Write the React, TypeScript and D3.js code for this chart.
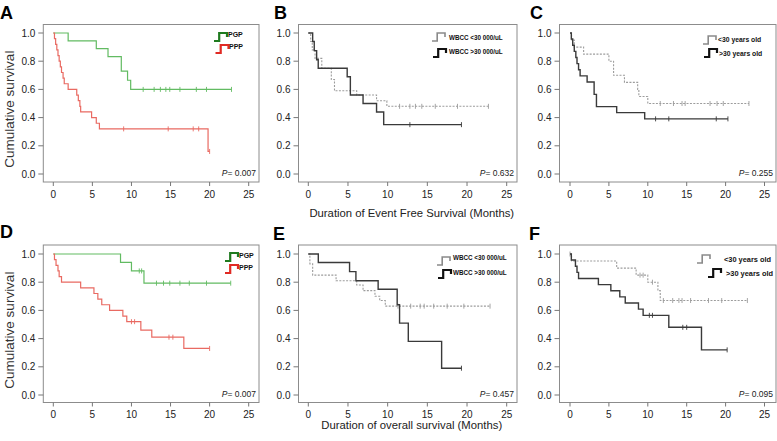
import React from 'react';
import * as d3 from 'd3';

// ---------- shared tick values ----------
const xTicks = [0, 5, 10, 15, 20, 25];
const yTicks = [0, 0.2, 0.4, 0.6, 0.8, 1.0];

// ---------- Panel A (event free survival, PGP / PPP) ----------
const aPgpTimes = [1.9, 5.5, 7.0, 8.7, 9.5, 9.9];
const aPgpSurv = [0.944, 0.889, 0.833, 0.729, 0.665, 0.6];
const aPgpEnd = 22.8;
const aPgpCensor = [11.5, 12.9, 13.7, 14.4, 14.9, 16.2, 18.3, 19.6, 22.8];

const aPppTimes = [0.15, 0.3, 0.45, 0.6, 0.75, 0.9, 1.05, 1.25, 1.4, 1.9, 3.0, 3.2, 3.4, 3.5, 4.9, 5.5, 5.9, 19.8];
const aPppSurv = [0.96, 0.92, 0.88, 0.84, 0.8, 0.76, 0.72, 0.68, 0.64, 0.6, 0.56, 0.52, 0.48, 0.44, 0.4, 0.36, 0.32, 0.16];
const aPppEnd = 20.0;
const aPppCensor = [9.0, 14.7, 17.9, 18.6, 20.0];

// ---------- Panel B (event free survival, WBCC) ----------
const bLowTimes = [0.3, 0.5, 0.85, 1.7, 2.9, 3.3, 6.1, 8.6, 9.9];
const bLowSurv = [0.94, 0.88, 0.82, 0.75, 0.67, 0.59, 0.56, 0.52, 0.48];
const bLowEnd = 22.7;
const bLowCensor = [11.5, 12.8, 13.5, 14.3, 16.0, 18.8, 22.7];

const bHighTimes = [0.55, 0.75, 1.05, 1.25, 4.9, 5.3, 6.9, 8.6, 9.5];
const bHighSurv = [0.94, 0.875, 0.81, 0.75, 0.69, 0.56, 0.5, 0.44, 0.35];
const bHighEnd = 19.3;
const bHighCensor = [12.8, 19.3];

// ---------- Panel C (event free survival, age) ----------
const cYoungTimes = [0.2, 0.55, 1.75, 5.0, 5.6, 7.0, 8.7, 8.85, 10.0];
const cYoungSurv = [0.95, 0.9, 0.85, 0.8, 0.7, 0.65, 0.6, 0.55, 0.5];
const cYoungEnd = 23.0;
const cYoungCensor = [11.6, 13.3, 14.4, 14.8, 18.0, 18.9, 19.7, 23.0];

const cOldTimes = [0.17, 0.35, 0.55, 0.75, 0.9, 1.1, 1.3, 2.2, 3.1, 3.4, 6.0, 9.6];
const cOldSurv = [0.957, 0.913, 0.87, 0.826, 0.783, 0.739, 0.696, 0.652, 0.565, 0.478, 0.435, 0.391];
const cOldEnd = 20.3;
const cOldCensor = [11.0, 12.7, 18.8, 20.3];

// ---------- Panel D (overall survival, PGP / PPP) ----------
const dPgpTimes = [8.6, 10.0, 11.6];
const dPgpSurv = [0.94, 0.88, 0.793];
const dPgpEnd = 22.7;
const dPgpCensor = [11.0, 11.3, 13.2, 14.1, 14.9, 16.2, 17.4, 19.6, 22.7];

const dPppTimes = [0.15, 0.35, 0.6, 0.75, 1.05, 3.5, 5.2, 5.7, 6.2, 7.2, 8.9, 9.4, 11.2, 12.6, 16.7];
const dPppSurv = [0.96, 0.92, 0.88, 0.84, 0.8, 0.76, 0.72, 0.68, 0.64, 0.6, 0.56, 0.52, 0.46, 0.41, 0.33];
const dPppEnd = 20.0;
const dPppCensor = [10.0, 10.4, 14.8, 15.3, 20.0];

// ---------- Panel E (overall survival, WBCC) ----------
const eLowTimes = [0.2, 0.55, 3.5, 6.1, 6.9, 8.4, 9.0, 9.7];
const eLowSurv = [0.93, 0.85, 0.81, 0.78, 0.74, 0.7, 0.67, 0.63];
const eLowEnd = 22.9;
const eLowCensor = [11.3, 12.9, 14.1, 14.6, 15.8, 17.5, 19.6, 22.9];

const eHighTimes = [1.26, 5.2, 6.0, 8.8, 11.2, 11.5, 12.6, 16.8];
const eHighSurv = [0.94, 0.875, 0.81, 0.75, 0.64, 0.51, 0.38, 0.19];
const eHighEnd = 19.3;
const eHighCensor = [19.3];

// ---------- Panel F (overall survival, age) ----------
const fYoungTimes = [0.2, 6.0, 8.5, 10.0, 11.3, 11.6];
const fYoungSurv = [0.95, 0.9, 0.85, 0.8, 0.74, 0.67];
const fYoungEnd = 22.8;
const fYoungCensor = [0.0, 9.0, 9.4, 10.6, 12.0, 13.2, 14.0, 14.4, 15.5, 17.8, 19.5, 22.8];

const fOldTimes = [0.17, 0.7, 0.9, 1.1, 3.65, 5.25, 6.4, 7.1, 8.8, 9.4, 12.7, 16.9];
const fOldSurv = [0.957, 0.913, 0.87, 0.826, 0.783, 0.739, 0.696, 0.652, 0.609, 0.565, 0.48, 0.32];
const fOldEnd = 20.2;
const fOldCensor = [10.2, 10.6, 14.5, 15.0, 20.2];

// ---------- labels ----------
const groupLabelsPP = ['PGP', 'PPP'];
const groupLabelsWBCC = ['WBCC <30 000/uL', 'WBCC >30 000/uL'];
const groupLabelsAge = ['<30 years old', '>30 years old'];
const pValues = ['0.007', '0.632', '0.255', '0.007', '0.457', '0.095'];
const panelLetters = ['A', 'B', 'C', 'D', 'E', 'F'];
const yAxisTitle = 'Cumulative survival';
const xAxisTitles = ['Duration of Event Free Survival (Months)', 'Duration of overall survival (Months)'];

// ---------- styles / layout (not data) ----------
type StyleKey = 'green' | 'red' | 'gray' | 'black';
const lineStyles: Record<StyleKey, { stroke: string; width: number; dash?: string; icon: string; iconW: number }> = {
  green: { stroke: '#62bb62', width: 1.2, icon: '#1f7a1f', iconW: 2.2 },
  red: { stroke: '#e96a62', width: 1.2, icon: '#e02a24', iconW: 2.2 },
  gray: { stroke: '#9c9c9c', width: 1.1, dash: '2,1.4', icon: '#8a8a8a', iconW: 1.6 },
  black: { stroke: '#3a3a3a', width: 1.4, icon: '#111111', iconW: 2.2 },
};

const cols = [
  { fx0: 43.3, fx1: 259, x0: 53.3, x25: 248.7 },
  { fx0: 298.5, fx1: 517, x0: 308.3, x25: 506.7 },
  { fx0: 559.5, fx1: 776, x0: 570, x25: 764.5 },
];
const rows = [
  { fy0: 24.5, fy1: 182, y1: 33, y0: 174 },
  { fy0: 245, fy1: 402.5, y1: 254, y0: 395 },
];

type Curve = { times: number[]; surv: number[]; end: number; censor: number[]; style: StyleKey };
type LegendPos = { icons: [number, number][]; text: [number, number][]; size: number };

const panels: {
  col: number; row: number; curves: Curve[]; labels: string[]; legendStyles: StyleKey[];
  legend: LegendPos; letterPos: [number, number];
}[] = [
  {
    col: 0, row: 0,
    curves: [
      { times: aPgpTimes, surv: aPgpSurv, end: aPgpEnd, censor: aPgpCensor, style: 'green' },
      { times: aPppTimes, surv: aPppSurv, end: aPppEnd, censor: aPppCensor, style: 'red' },
    ],
    labels: groupLabelsPP, legendStyles: ['green', 'red'],
    legend: { icons: [[214, 33], [215.5, 45]], text: [[228, 37], [229, 49]], size: 7 },
    letterPos: [0, 19],
  },
  {
    col: 1, row: 0,
    curves: [
      { times: bLowTimes, surv: bLowSurv, end: bLowEnd, censor: bLowCensor, style: 'gray' },
      { times: bHighTimes, surv: bHighSurv, end: bHighEnd, censor: bHighCensor, style: 'black' },
    ],
    labels: groupLabelsWBCC, legendStyles: ['gray', 'black'],
    legend: { icons: [[432, 33], [433, 49]], text: [[449, 40], [449, 54]], size: 6.3 },
    letterPos: [274, 19],
  },
  {
    col: 2, row: 0,
    curves: [
      { times: cYoungTimes, surv: cYoungSurv, end: cYoungEnd, censor: cYoungCensor, style: 'gray' },
      { times: cOldTimes, surv: cOldSurv, end: cOldEnd, censor: cOldCensor, style: 'black' },
    ],
    labels: groupLabelsAge, legendStyles: ['gray', 'black'],
    legend: { icons: [[703, 36], [704, 49]], text: [[718, 42], [719, 55.5]], size: 6.8 },
    letterPos: [530, 19],
  },
  {
    col: 0, row: 1,
    curves: [
      { times: dPgpTimes, surv: dPgpSurv, end: dPgpEnd, censor: dPgpCensor, style: 'green' },
      { times: dPppTimes, surv: dPppSurv, end: dPppEnd, censor: dPppCensor, style: 'red' },
    ],
    labels: groupLabelsPP, legendStyles: ['green', 'red'],
    legend: { icons: [[225, 253], [225, 265]], text: [[239, 257.5], [239, 269.5]], size: 7 },
    letterPos: [0, 238],
  },
  {
    col: 1, row: 1,
    curves: [
      { times: eLowTimes, surv: eLowSurv, end: eLowEnd, censor: eLowCensor, style: 'gray' },
      { times: eHighTimes, surv: eHighSurv, end: eHighEnd, censor: eHighCensor, style: 'black' },
    ],
    labels: groupLabelsWBCC, legendStyles: ['gray', 'black'],
    legend: { icons: [[437, 257], [438, 270]], text: [[453, 260], [453, 274.5]], size: 6.3 },
    letterPos: [273, 240],
  },
  {
    col: 2, row: 1,
    curves: [
      { times: fYoungTimes, surv: fYoungSurv, end: fYoungEnd, censor: fYoungCensor, style: 'gray' },
      { times: fOldTimes, surv: fOldSurv, end: fOldEnd, censor: fOldCensor, style: 'black' },
    ],
    labels: groupLabelsAge, legendStyles: ['gray', 'black'],
    legend: { icons: [[697, 255], [708, 269]], text: [[724, 261.5], [726, 275.5]], size: 7.4 },
    letterPos: [529, 240],
  },
];

const FONT = '"Liberation Sans", Arial, Helvetica, sans-serif';

function survAt(c: Curve, t: number) {
  let s = 1;
  for (let i = 0; i < c.times.length; i++) if (c.times[i] <= t) s = c.surv[i];
  return s;
}

function Panel({ p, i }: { p: (typeof panels)[number]; i: number }) {
  const col = cols[p.col];
  const row = rows[p.row];
  const x = d3.scaleLinear().domain([0, 25]).range([col.x0, col.x25]);
  const y = d3.scaleLinear().domain([0, 1]).range([row.y0, row.y1]);
  const line = d3
    .line<[number, number]>()
    .x((d) => x(d[0]))
    .y((d) => y(d[1]))
    .curve(d3.curveStepAfter);

  return (
    <g>
      <text x={p.letterPos[0]} y={p.letterPos[1]} fontFamily={FONT} fontWeight="bold" fontSize={18} fill="#000">
        {panelLetters[i]}
      </text>
      <rect x={col.fx0} y={row.fy0} width={col.fx1 - col.fx0} height={row.fy1 - row.fy0} fill="none" stroke="#8c8c8c" strokeWidth={1} />
      {yTicks.map((t) => (
        <g key={'y' + t}>
          <line x1={col.fx0 - 5} x2={col.fx0} y1={y(t)} y2={y(t)} stroke="#777" strokeWidth={1} />
          <text x={col.fx0 - 8} y={y(t) + 3.5} textAnchor="end" fontFamily={FONT} fontSize={10} fill="#222">
            {t.toFixed(1)}
          </text>
        </g>
      ))}
      {xTicks.map((t) => (
        <g key={'x' + t}>
          <line x1={x(t)} x2={x(t)} y1={row.fy1} y2={row.fy1 + 4} stroke="#777" strokeWidth={1} />
          <text x={x(t)} y={row.fy1 + 15.5} textAnchor="middle" fontFamily={FONT} fontSize={10} fill="#222">
            {t}
          </text>
        </g>
      ))}
      {p.curves.map((c, ci) => {
        const st = lineStyles[c.style];
        const pts: [number, number][] = [[0, 1], ...c.times.map((t, k) => [t, c.surv[k]] as [number, number]), [c.end, c.surv[c.surv.length - 1]]];
        return (
          <g key={ci}>
            <path d={line(pts) || ''} fill="none" stroke={st.stroke} strokeWidth={st.width} strokeDasharray={st.dash} />
            {c.censor.map((t, k) => (
              <line key={k} x1={x(t)} x2={x(t)} y1={y(survAt(c, t)) - 2.5} y2={y(survAt(c, t)) + 2.5} stroke={st.stroke} strokeWidth={0.9} />
            ))}
          </g>
        );
      })}
      {p.legendStyles.map((s, k) => {
        const st = lineStyles[s];
        const [ix, iy] = p.legend.icons[k];
        const w = 13;
        const h = 8;
        return (
          <g key={'lg' + k}>
            <path
              d={`M${ix},${iy + h} H${ix + w * 0.4} V${iy} H${ix + w} V${iy + h * 0.5}`}
              fill="none"
              stroke={st.icon}
              strokeWidth={st.iconW}
            />
            <text x={p.legend.text[k][0]} y={p.legend.text[k][1]} fontFamily={FONT} fontWeight="bold" fontSize={p.legend.size} fill="#111">
              {p.labels[k]}
            </text>
          </g>
        );
      })}
      <text x={col.fx1 - 3} y={y(0) + 2} textAnchor="end" fontFamily={FONT} fontSize={8.5} fill="#222">
        <tspan fontStyle="italic">P</tspan>= {pValues[i]}
      </text>
      {p.col === 0 && (
        <text
          transform={`translate(${13.5},${y(0.46)}) rotate(-90)`}
          textAnchor="middle"
          fontFamily={FONT}
          fontSize={13.5}
          fill="#333"
        >
          {yAxisTitle}
        </text>
      )}
      {p.col === 1 && (
        <text
          x={(col.fx0 + col.fx1) / 2 + 4}
          y={p.row === 0 ? 216.5 : 429}
          textAnchor="middle"
          fontFamily={FONT}
          fontSize={11.3}
          fill="#222"
        >
          {xAxisTitles[p.row]}
        </text>
      )}
    </g>
  );
}

export default function App() {
  return (
    <svg
      width={777}
      height={441}
      viewBox="0 0 777 441"
      style={{ position: 'absolute', left: 0, top: 0, background: '#fff' }}
    >
      <rect x={0} y={0} width={777} height={441} fill="#fff" />
      {panels.map((p, i) => (
        <Panel key={i} p={p} i={i} />
      ))}
    </svg>
  );
}
